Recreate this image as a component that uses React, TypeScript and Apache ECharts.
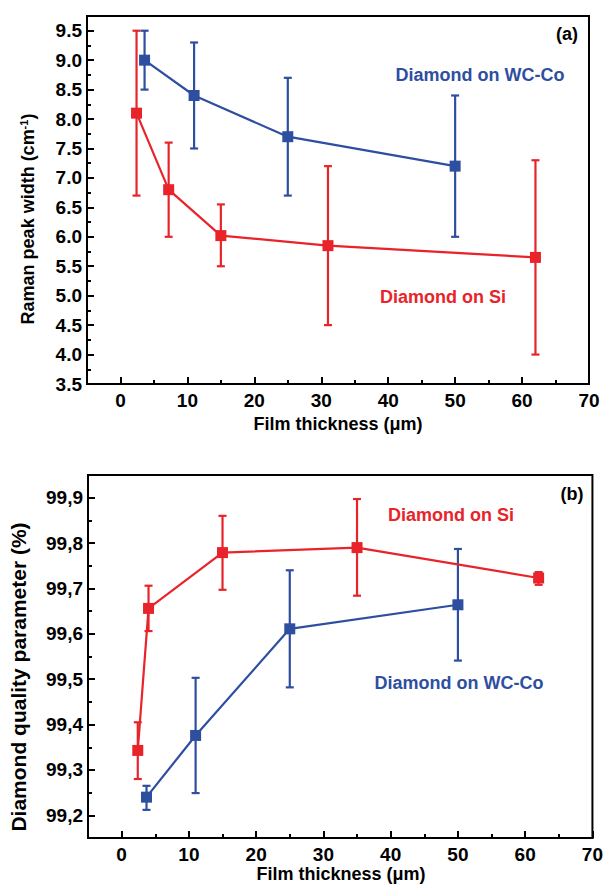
import React, { useEffect, useRef } from "react";
import * as echarts from "echarts";

// ---------- data ----------
const X_MAJOR = [0, 10, 20, 30, 40, 50, 60, 70];
const X_MINOR = [5, 15, 25, 35, 45, 55, 65];
const YA_MAJOR = [3.5, 4.0, 4.5, 5.0, 5.5, 6.0, 6.5, 7.0, 7.5, 8.0, 8.5, 9.0, 9.5];
const YA_MINOR = [3.75, 4.25, 4.75, 5.25, 5.75, 6.25, 6.75, 7.25, 7.75, 8.25, 8.75, 9.25];
const YB_MAJOR = [99.2, 99.3, 99.4, 99.5, 99.6, 99.7, 99.8, 99.9];
const YB_MINOR = [99.25, 99.35, 99.45, 99.55, 99.65, 99.75, 99.85];

// (a) Raman peak width
const SI_A_X = [2.4, 7.2, 15, 31, 62];
const SI_A_Y = [8.1, 6.8, 6.02, 5.85, 5.65];
const SI_A_LO = [6.7, 6.0, 5.5, 4.5, 4.0];
const SI_A_HI = [9.5, 7.6, 6.55, 7.2, 7.3];
const WC_A_X = [3.6, 11, 25, 50];
const WC_A_Y = [9.0, 8.4, 7.7, 7.2];
const WC_A_LO = [8.5, 7.5, 6.7, 6.0];
const WC_A_HI = [9.5, 9.3, 8.7, 8.4];

// (b) Diamond quality parameter
const SI_B_X = [2.4, 4, 15, 35, 62];
const SI_B_Y = [99.343, 99.656, 99.779, 99.79, 99.723];
const SI_B_LO = [99.28, 99.606, 99.697, 99.684, 99.708];
const SI_B_HI = [99.405, 99.706, 99.86, 99.897, 99.736];
const WC_B_X = [3.7, 11, 25, 50];
const WC_B_Y = [99.24, 99.376, 99.611, 99.664];
const WC_B_LO = [99.212, 99.249, 99.482, 99.541];
const WC_B_HI = [99.265, 99.503, 99.74, 99.787];

const RED = "#E8242A";
const BLUE = "#2E4EA0";
const FONT = "'Liberation Sans', Arial, Helvetica, sans-serif";

function pts(xs: number[], ys: number[]) {
  return xs.map((x, i) => [x, ys[i]]);
}
function errs(xs: number[], lo: number[], hi: number[]) {
  return xs.map((x, i) => [x, lo[i], hi[i]]);
}

function errSeries(data: number[][], color: string, gi: number) {
  return {
    type: "custom",
    xAxisIndex: gi * 2,
    yAxisIndex: gi * 2,
    z: 2,
    encode: { x: 0, y: [1, 2] },
    data,
    renderItem: (params: any, api: any) => {
      const x = api.value(0);
      const p1 = api.coord([x, api.value(1)]);
      const p2 = api.coord([x, api.value(2)]);
      const w = 4;
      const style = { stroke: color, lineWidth: 2.2 };
      return {
        type: "group",
        children: [
          { type: "line", shape: { x1: p1[0], y1: p1[1], x2: p2[0], y2: p2[1] }, style },
          { type: "line", shape: { x1: p1[0] - w, y1: p1[1], x2: p1[0] + w, y2: p1[1] }, style },
          { type: "line", shape: { x1: p2[0] - w, y1: p2[1], x2: p2[0] + w, y2: p2[1] }, style },
        ],
      };
    },
  };
}

function lineSeries(data: number[][], color: string, gi: number) {
  return {
    type: "line",
    xAxisIndex: gi * 2,
    yAxisIndex: gi * 2,
    z: 3,
    data,
    symbol: "rect",
    symbolSize: 11,
    itemStyle: { color },
    lineStyle: { color, width: 2.2 },
  };
}

function xAxes(gi: number) {
  const base = {
    type: "value",
    gridIndex: gi,
    min: -5,
    max: 70,
    position: "bottom",
    splitLine: { show: false },
  };
  return [
    {
      ...base,
      axisLine: { show: true, onZero: false, lineStyle: { color: "#000", width: 2 } },
      axisTick: { show: true, inside: true, length: 7, customValues: X_MAJOR, lineStyle: { color: "#000", width: 2 } },
      axisLabel: { customValues: X_MAJOR, color: "#000", fontWeight: "bold", fontSize: 19, fontFamily: FONT, margin: 7 },
    },
    {
      ...base,
      axisLine: { show: false, onZero: false },
      axisTick: { show: true, inside: true, length: 4, customValues: X_MINOR, lineStyle: { color: "#000", width: 2 } },
      axisLabel: { show: false },
    },
  ];
}

function yAxes(gi: number, min: number, max: number, major: number[], minor: number[], fmt: (v: number) => string) {
  const base = {
    type: "value",
    gridIndex: gi,
    min,
    max,
    position: "left",
    splitLine: { show: false },
  };
  return [
    {
      ...base,
      axisLine: { show: true, onZero: false, lineStyle: { color: "#000", width: 2 } },
      axisTick: { show: true, inside: true, length: 7, customValues: major, lineStyle: { color: "#000", width: 2 } },
      axisLabel: { customValues: major, formatter: fmt, color: "#000", fontWeight: "bold", fontSize: 19, fontFamily: FONT, margin: 5 },
    },
    {
      ...base,
      axisLine: { show: false, onZero: false },
      axisTick: { show: true, inside: true, length: 4, customValues: minor, lineStyle: { color: "#000", width: 2 } },
      axisLabel: { show: false },
    },
  ];
}

function txt(x: number, y: number, text: string, color: string, size = 18, rotation = 0, rich?: any) {
  return {
    type: "text",
    x,
    y,
    rotation,
    z: 10,
    style: {
      text,
      fill: color,
      font: `bold ${size}px ${FONT}`,
      fontWeight: "bold",
      fontSize: size,
      fontFamily: FONT,
      align: "center",
      verticalAlign: "middle",
      rich,
    },
  };
}

export default function App() {
  const ref = useRef<HTMLDivElement>(null);
  useEffect(() => {
    document.body.style.margin = "0";
    if (!ref.current) return;
    const chart = echarts.init(ref.current, null, { renderer: "svg" });
    const option: any = {
      animation: false,
      backgroundColor: "#fff",
      grid: [
        { left: 87, top: 16, width: 502, height: 368, show: true, borderColor: "#000", borderWidth: 2, backgroundColor: "transparent" },
        { left: 88, top: 475, width: 506, height: 363, show: true, borderColor: "#000", borderWidth: 2, backgroundColor: "transparent" },
      ],
      xAxis: [...xAxes(0), ...xAxes(1)],
      yAxis: [
        ...yAxes(0, 3.5, 9.75, YA_MAJOR, YA_MINOR, (v: number) => v.toFixed(1)),
        ...yAxes(1, 99.15, 99.95, YB_MAJOR, YB_MINOR, (v: number) => v.toFixed(1).replace(".", ",")),
      ],
      series: [
        errSeries(errs(WC_A_X, WC_A_LO, WC_A_HI), BLUE, 0),
        errSeries(errs(SI_A_X, SI_A_LO, SI_A_HI), RED, 0),
        lineSeries(pts(WC_A_X, WC_A_Y), BLUE, 0),
        lineSeries(pts(SI_A_X, SI_A_Y), RED, 0),
        errSeries(errs(WC_B_X, WC_B_LO, WC_B_HI), BLUE, 1),
        errSeries(errs(SI_B_X, SI_B_LO, SI_B_HI), RED, 1),
        lineSeries(pts(WC_B_X, WC_B_Y), BLUE, 1),
        lineSeries(pts(SI_B_X, SI_B_Y), RED, 1),
      ],
      graphic: [
        txt(28, 219, "Raman peak width (cm{s|-1})", "#000", 18, Math.PI / 2, {
          s: { fontSize: 11, fontWeight: "bold", fontFamily: FONT, fill: "#000", verticalAlign: "top", padding: [0, 0, 8, 0] },
        }),
        txt(18, 677, "Diamond quality parameter (%)", "#000", 21, Math.PI / 2),
        txt(338, 424, "Film thickness (\u03bcm)", "#000", 18),
        txt(341, 874, "Film thickness (\u03bcm)", "#000", 18),
        txt(567, 34, "(a)", "#000", 18),
        txt(572, 494, "(b)", "#000", 18),
        txt(480, 75, "Diamond on WC-Co", BLUE, 18),
        txt(443, 297, "Diamond on Si", RED, 18),
        txt(451, 515, "Diamond on Si", RED, 18),
        txt(459, 683, "Diamond on WC-Co", BLUE, 18),
      ],
    };
    chart.setOption(option);
    return () => chart.dispose();
  }, []);
  return <div ref={ref} style={{ width: 606, height: 885 }} />;
}
